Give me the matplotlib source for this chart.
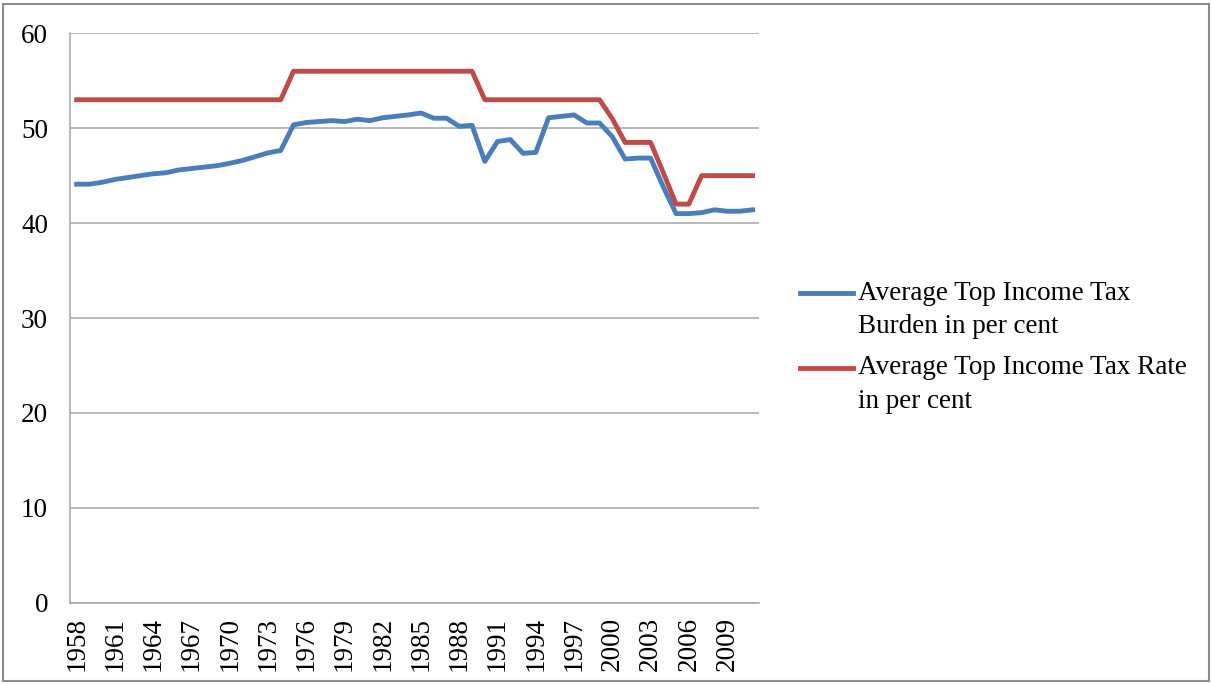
from matplotlib import pyplot as plt
from matplotlib.lines import Line2D
from matplotlib.patches import Rectangle

# data
years = list(range(1958, 2012))
burden = [44.1, 44.1, 44.3, 44.6, 44.8, 45.0, 45.2, 45.3, 45.6, 45.75, 45.9, 46.05, 46.3, 46.6, 47.0, 47.4, 47.65,
          50.35, 50.6, 50.7, 50.8, 50.7, 50.95, 50.8, 51.1, 51.25, 51.4, 51.6, 51.05, 51.05, 50.2, 50.3,
          46.5, 48.6, 48.8, 47.35, 47.45, 51.1, 51.25, 51.4, 50.55, 50.55, 49.1, 46.75, 46.85, 46.85,
          43.8, 41.0, 41.0, 41.1, 41.4, 41.25, 41.25, 41.4]
rate = [53]*17 + [56]*15 + [53]*10 + [51.0, 48.5, 48.5, 48.5, 45.3, 42.0, 42.0, 45, 45, 45, 45, 45]
labels = ['Average Top Income Tax\nBurden in per cent', 'Average Top Income Tax Rate\nin per cent']
colors = ['#4A7EBB', '#BE4B48']
xticks = list(range(1958, 2010, 3))

plt.rcParams['font.family'] = ['Liberation Serif', 'DejaVu Serif']
W, H = 1212, 684
fig = plt.figure(figsize=(W/100, H/100), dpi=100)

# chart border
fig.patches.append(Rectangle((3/W, 3/H), 1-6/W, 1-7/H, transform=fig.transFigure,
                             fill=False, edgecolor='#8C8C8C', linewidth=1.5))

ax = fig.add_axes([70.3/W, 1-602.7/H, 688.7/W, 569.4/H])
ax.plot(years, burden, color=colors[0], lw=3.5, solid_joinstyle='round')
ax.plot(years, rate, color=colors[1], lw=3.5, solid_joinstyle='round')

ax.set_xlim(1957.5, 2011.5)
ax.set_ylim(0, 60)
ax.set_yticks(range(0, 61, 10))
ax.set_xticks(xticks)
ax.set_xticklabels([str(y) for y in xticks], rotation=90)
ax.tick_params(axis='y', length=0, pad=16, labelsize=19.5)
ax.tick_params(axis='x', length=0, pad=10, labelsize=19.5)
ax.yaxis.grid(True, color='#A6A6A6', lw=1.1)
ax.set_axisbelow(True)
for s in ['top', 'right']:
    ax.spines[s].set_visible(False)
for s in ['left', 'bottom']:
    ax.spines[s].set_color('#A6A6A6')
    ax.spines[s].set_linewidth(1.1)

# legend drawn by hand so the key lines up with the first text line
for i, (lab, c) in enumerate(zip(labels, colors)):
    ly = [293.3, 367.7][i]
    fig.add_artist(Line2D([800/W, 853/W], [1-ly/H, 1-ly/H], color=c, lw=3.5, transform=fig.transFigure))
    # baseline of a multi-line text is that of its last line
    fig.text(858/W, 1-(ly+40)/H, lab, fontsize=19.5, va='baseline', ha='left', linespacing=1.45)

plt.savefig('out.png', dpi=100)
